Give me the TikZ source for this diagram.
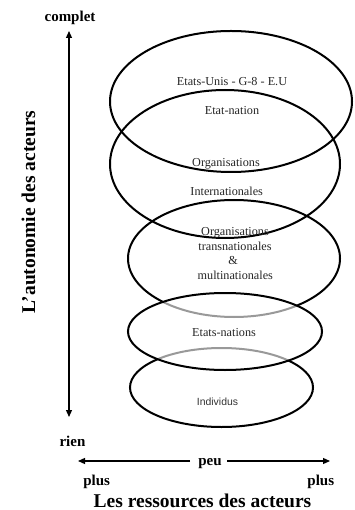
\documentclass[tikz,border=0pt]{standalone}
\usepackage{fontspec}
\setmainfont{Liberation Serif}
\newfontfamily\sansf{Liberation Sans}
\usetikzlibrary{arrows.meta}
\begin{document}
\begin{tikzpicture}[x=1pt,y=-1pt,
  ell/.style={line width=2pt},
  ellgrey/.style={line width=2pt, draw=black!40},
  lab/.style={font=\fontsize{12.2}{14}\selectfont, text=black!85, inner sep=0pt, anchor=base},
  sanslab/.style={font=\sansf\fontsize{10.4}{12}\selectfont, text=black!80, inner sep=0pt, anchor=base},
  axislab/.style={font=\bfseries\fontsize{15}{17}\selectfont, inner sep=0pt, anchor=base},
  titlelab/.style={font=\bfseries\fontsize{19.5}{22}\selectfont, inner sep=0pt, anchor=base},
  arr/.style={line width=1.2pt, -{Triangle[length=7pt,width=6pt]}}
]
\useasboundingbox (0,0) rectangle (354,510);
\fill[white] (0,0) rectangle (354,510);

% ellipse centres
\coordinate (c1) at (231,101.5);
\coordinate (c2) at (225,164);
\coordinate (c3) at (234,258.5);
\coordinate (c4) at (225,331.5);
\coordinate (c5) at (221.5,387.5);

\draw[ell] (c1) ellipse [x radius=121pt, y radius=70.5pt];
\draw[ell] (c2) ellipse [x radius=115pt, y radius=74pt];
% parts of ellipses 3 and 5 outside ellipse 4: black
\begin{scope}[even odd rule]
  \clip (0,0) rectangle (354,510) (c4) ellipse [x radius=96pt, y radius=37.5pt];
  \draw[ell] (c3) ellipse [x radius=106pt, y radius=58.5pt];
  \draw[ell] (c5) ellipse [x radius=91.5pt, y radius=39.5pt];
\end{scope}
% parts inside ellipse 4: grey
\begin{scope}
  \clip (c4) ellipse [x radius=96pt, y radius=37.5pt];
  \draw[ellgrey] (c3) ellipse [x radius=106pt, y radius=58.5pt];
  \draw[ellgrey] (c5) ellipse [x radius=91.5pt, y radius=39.5pt];
\end{scope}
\draw[ell] (c4) ellipse [x radius=97pt, y radius=38.5pt];

% texts
\node[lab] (t1) at (232,86) {Etats-Unis - G-8 - E.U};
\node[lab] (t2) at (232,115) {Etat-nation};
\node[lab] (t3) at (226,166.7) {Organisations};
\node[lab] (t4) at (226.7,196) {Internationales};
\node[lab] (t5) at (235,235) {Organisations};
\node[lab] (t6) at (235,250) {transnationales};
\node[lab] (t7) at (233,264) {\&};
\node[lab] (t8) at (235.3,279) {multinationales};
\node[lab] (t9) at (224,336.5) {Etats-nations};
\node[sanslab] (t10) at (217.5,405.7) {Individus};

% axes
\coordinate (vtop) at (69,31);
\coordinate (vbot) at (69,417);
\draw[line width=1.2pt, {Triangle[length=7pt,width=6pt]}-{Triangle[length=7pt,width=6pt]}] (vtop) -- (vbot);

\node[axislab] (complet) at (70,21.5) {complet};
\node[axislab] (rien) at (72.5,446) {rien};
\node[titlelab, rotate=90] (ylab) at (35,212) {L'autonomie des acteurs};

\node[axislab] (peu) at (210,465) {peu};
\coordinate (pl) at (190,461);
\coordinate (pr) at (227,461);
\coordinate (hl) at (78,461);
\coordinate (hr) at (330,461);
\draw[arr] (pl) -- (hl);
\draw[arr] (pr) -- (hr);

\node[axislab] (plusl) at (96.7,485.5) {plus};
\node[axislab] (plusr) at (320.8,485.5) {plus};
\node[titlelab] (xlab) at (202.5,507) {Les ressources des acteurs};
\end{tikzpicture}
\end{document}
